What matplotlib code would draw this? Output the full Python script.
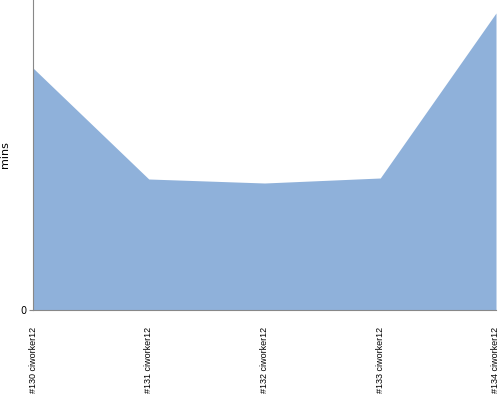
import matplotlib
matplotlib.use("Agg")
import matplotlib.pyplot as plt

labels = ["#130 ciworker12", "#131 ciworker12", "#132 ciworker12", "#133 ciworker12", "#134 ciworker12"]
values = [24.2, 13.1, 12.7, 13.2, 29.7]

fig = plt.figure(figsize=(5, 4), dpi=100)
ax = fig.add_axes([0.066, 0.225, 0.926, 0.775])
x = list(range(len(labels)))
ax.fill_between(x, values, 0, color="#8fb1da", linewidth=0)
ax.set_xlim(0, len(labels) - 1)
ax.set_ylim(0, 31)
ax.set_yticks([0])
ax.set_yticklabels(["0"], fontsize=7)
ax.set_xticks(x)
ax.set_xticklabels(labels, rotation=90, fontsize=6.5, va="top",
                   family=["Liberation Sans Narrow", "Liberation Sans", "DejaVu Sans"])
ax.tick_params(axis="x", length=0, pad=12)
ax.tick_params(axis="y", length=3, color="#888888", pad=2)
for s in ["top", "right"]:
    ax.spines[s].set_visible(False)
for s in ["left", "bottom"]:
    ax.spines[s].set_color("#888888")
    ax.spines[s].set_linewidth(0.8)
ax.set_ylabel("mins", fontsize=8)
ax.yaxis.set_label_coords(-0.05, 0.5)
fig.savefig("out.png", dpi=100)
